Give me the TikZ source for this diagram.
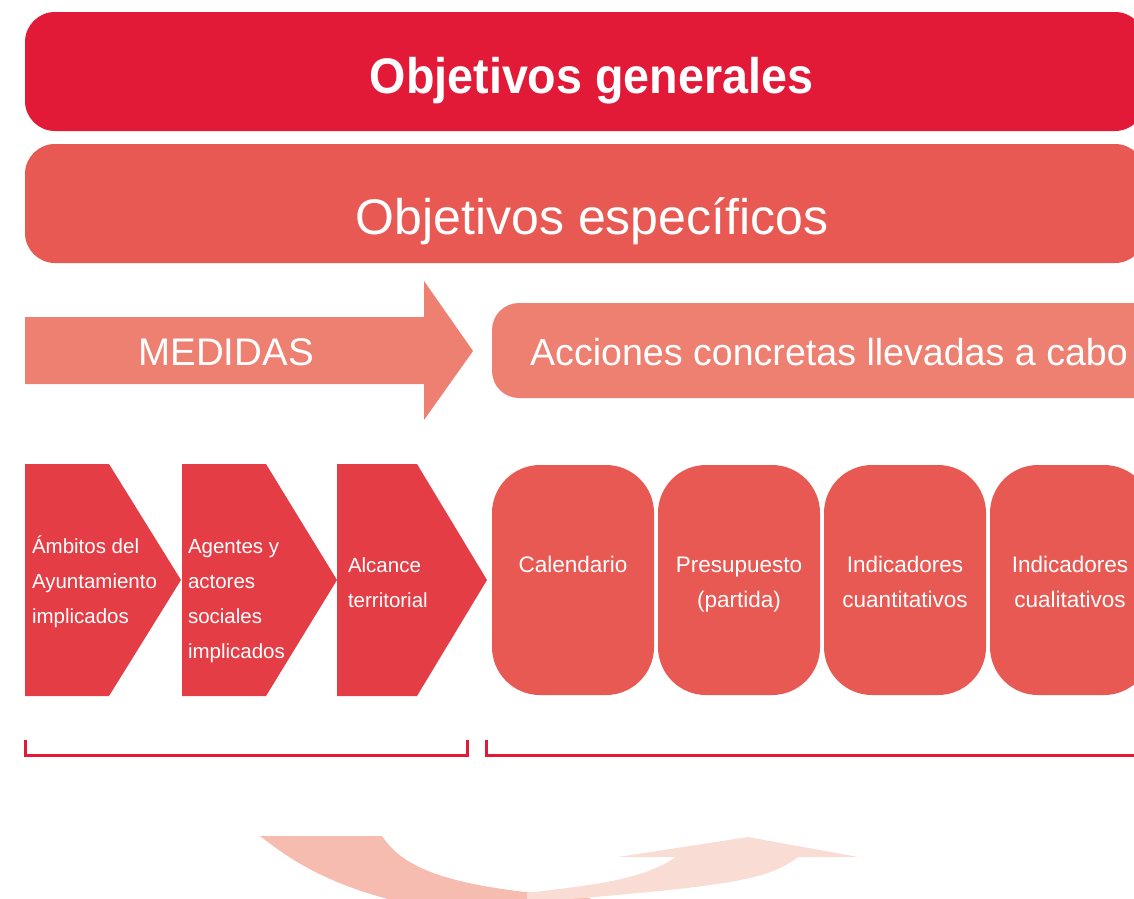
\documentclass[tikz,border=0pt]{standalone}
\usepackage{fontspec}
\setmainfont{Liberation Sans}
\usepackage{graphicx}
\definecolor{crimson}{HTML}{E21937}
\definecolor{coral}{HTML}{E85953}
\definecolor{salmon}{HTML}{EE8072}
\definecolor{chev}{HTML}{E43D46}
\definecolor{curveA}{HTML}{F6BCB0}
\definecolor{curveB}{HTML}{F9DCD4}
\tikzset{
  txt/.style={text=white, inner sep=0pt, outer sep=0pt},
  biglabel/.style={txt, anchor=base, font=\fontsize{50}{60}\selectfont},
  midlabel/.style={txt, anchor=base, font=\fontsize{38.5}{46}\selectfont},
  chevlabel/.style={txt, anchor=north west, align=left, font=\fontsize{20.5}{35}\selectfont},
  pilllabel/.style={txt, anchor=north, align=center, font=\fontsize{22.5}{35}\selectfont},
  bracket/.style={draw=crimson, line width=3pt},
  chevshape/.style={fill=chev},
  pill/.style={fill=coral, rounded corners=48pt}
}
\begin{document}
\begin{tikzpicture}[x=1pt,y=-1pt]
\useasboundingbox (0,0) rectangle (1134,898);
\clip (0,0) rectangle (1134,898);

% top bands
\fill[crimson, rounded corners=30pt] (25,12) rectangle (1145,131);
\node[biglabel] (gen) at (591.5,93) {\scalebox{0.933}[1]{\bfseries Objetivos generales}};
\fill[coral, rounded corners=30pt] (25,144) rectangle (1145,263);
\node[biglabel] (esp) at (592,234) {Objetivos específicos};

% MEDIDAS arrow
\fill[salmon] (25,317) -- (424,317) -- (424,281) -- (473,351) -- (424,420) -- (424,384) -- (25,384) -- cycle;
\node[midlabel] (med) at (226,365) {MEDIDAS};
\fill[salmon, rounded corners=27pt] (492,303) rectangle (1170,398);
\node[midlabel, font=\fontsize{37.6}{46}\selectfont] (acc) at (829,365) {Acciones concretas llevadas a cabo};

% chevrons
\fill[chevshape] (25,464) -- (109,464) -- (181,580) -- (109,696) -- (25,696) -- cycle;
\fill[chevshape] (182,464) -- (266,464) -- (337,580) -- (266,696) -- (182,696) -- cycle;
\fill[chevshape] (337,464) -- (417,464) -- (487,580) -- (417,696) -- (337,696) -- cycle;
\node[chevlabel] (amb) at (32,528.5) {\strut Ámbitos del\\Ayuntamiento\\implicados};
\node[chevlabel] (age) at (188,528.5) {\strut Agentes y\\actores\\sociales\\implicados};
\node[chevlabel] (alc) at (348,547.5) {\strut Alcance\\territorial};

% rounded boxes
\fill[pill] (492,465) rectangle (654,695);
\fill[pill] (658,465) rectangle (820,695);
\fill[pill] (824,465) rectangle (986,695);
\fill[pill] (990,465) rectangle (1152,695);
\node[pilllabel] (cal) at (573,547.5) {\strut Calendario};
\node[pilllabel] (pre) at (739,547.5) {\strut Presupuesto\\(partida)};
\node[pilllabel] (icn) at (905,547.5) {\strut Indicadores\\cuantitativos};
\node[pilllabel] (icl) at (1070,547.5) {\strut Indicadores\\cualitativos};

% brackets
\draw[bracket] (25,740) -- (25,755) -- (467,755) -- (467,740);
\draw[bracket] (486,740) -- (486,755) -- (1150,755);

% curved return arrow (cut by the bottom edge)
\fill[curveA] (260,836) -- (382,836) .. controls (405,870) and (450,888) .. (590,898)
  -- (600,910) -- (440,910) .. controls (330,892) and (285,855) .. (260,836) -- cycle;
\fill[curveB] (527,893) .. controls (580,886) and (640,882) .. (676,857)
  -- (618,857) -- (748,837) -- (858,857) -- (798,857)
  .. controls (770,878) and (740,885) .. (570,899) -- (560,905) -- (527,905) -- cycle;
\end{tikzpicture}
\end{document}
